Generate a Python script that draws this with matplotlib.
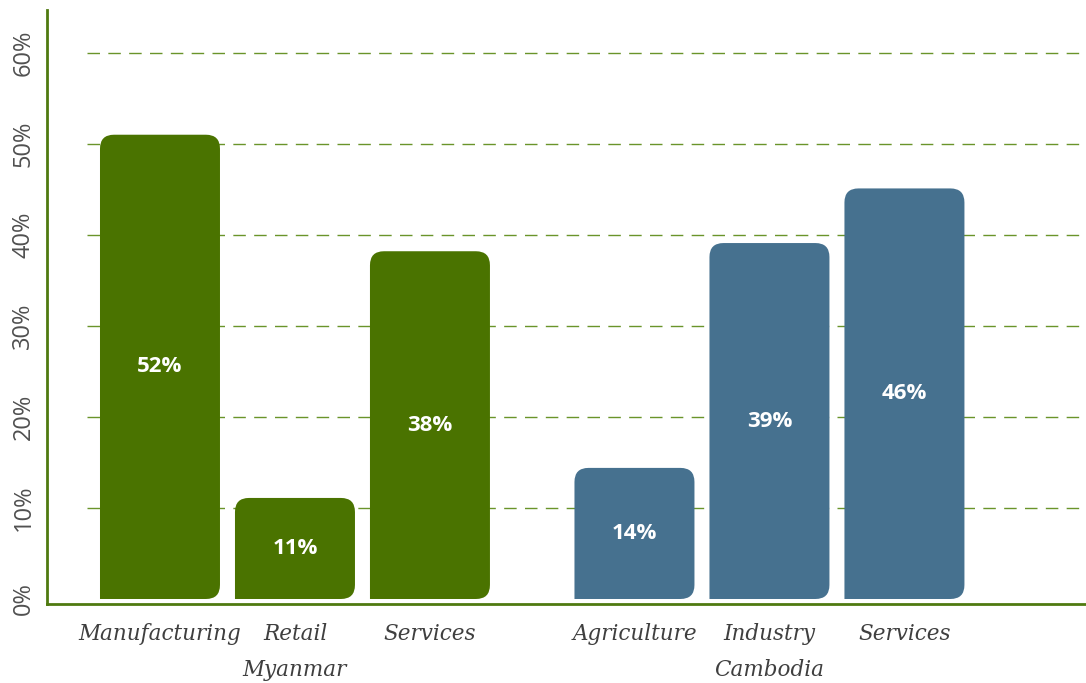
import matplotlib
matplotlib.use("Agg")
import matplotlib.pyplot as plt
from matplotlib.path import Path
from matplotlib.patches import PathPatch
from matplotlib.transforms import blended_transform_factory

# ---- data ----
categories = ["Manufacturing", "Retail", "Services", "Agriculture", "Industry", "Services"]
values = [51.0, 11.1, 38.2, 14.4, 39.1, 45.1]
value_labels = ["52%", "11%", "38%", "14%", "39%", "46%"]
groups = ["Myanmar", "Cambodia"]
group_of = [0, 0, 0, 1, 1, 1]
yticks = [0, 10, 20, 30, 40, 50, 60]
ytick_labels = ["0%", "10%", "20%", "30%", "40%", "50%", "60%"]

# ---- style ----
colors = ["#4a7300", "#46718f"]
grid_color = "#6a942a"
spine_color = "#4f7a10"
text_grey = "#3f3f3f"

W, H, DPI = 1086, 683, 100
fig = plt.figure(figsize=(W / DPI, H / DPI), dpi=DPI)
ax = fig.add_axes([47 / W, (H - 604) / H, 1 - 47 / W, (604 - 10) / H])

positions = [0, 1, 2, 3.515, 4.515, 5.515]
bar_w = 120 / 135
xlim = (-0.837, 6.86)
ylim = (-0.55, 64.7)
ax.set_xlim(*xlim)
ax.set_ylim(*ylim)

# pixel scales
px_per_x = (W - 47) / (xlim[1] - xlim[0])
px_per_y = (604 - 10) / (ylim[1] - ylim[0])
r_px = 14
rx = r_px / px_per_x
ry = r_px / px_per_y

# gridlines
gx0 = xlim[0] + (87 - 47) / px_per_x
for t in yticks[1:]:
    ax.plot([gx0, xlim[1]], [t, t], color=grid_color, lw=1.0,
            linestyle=(0, (9, 6)), zorder=1)

# bars (library bar for positions), then rounded path
bars = ax.bar(positions, values, width=bar_w, color="none", edgecolor="none")
for b, g, lab in zip(bars, group_of, value_labels):
    x0 = b.get_x(); x1 = x0 + b.get_width()
    y0 = 0.0; y1 = b.get_height()
    verts = [
        (x0, y0), (x1 - rx, y0), (x1, y0), (x1, y0 + ry),
        (x1, y1 - ry), (x1, y1), (x1 - rx, y1),
        (x0 + rx, y1), (x0, y1), (x0, y1 - ry),
        (x0, y0), (x0, y0),
    ]
    codes = [Path.MOVETO, Path.LINETO, Path.CURVE3, Path.CURVE3,
             Path.LINETO, Path.CURVE3, Path.CURVE3,
             Path.LINETO, Path.CURVE3, Path.CURVE3,
             Path.LINETO, Path.CLOSEPOLY]
    ax.add_patch(PathPatch(Path(verts, codes), facecolor=colors[g],
                           edgecolor="none", zorder=2))
    ax.text(x0 + b.get_width() / 2, y1 / 2, lab, ha="center", va="center",
            color="white", fontsize=16, fontweight="bold",
            family="Open Sans", zorder=3)

# spines
for s in ["top", "right"]:
    ax.spines[s].set_visible(False)
for s in ["left", "bottom"]:
    ax.spines[s].set_color(spine_color)
    ax.spines[s].set_linewidth(2.0)

# y ticks
ax.set_yticks(yticks)
ax.set_yticklabels(ytick_labels, rotation=90, va="center", ha="center",
                   fontsize=17, color="#505050", family="Open Sans")
ax.tick_params(axis="y", length=0, pad=17)

# x ticks
ax.set_xticks(positions)
ax.set_xticklabels(categories, fontsize=15.5, color=text_grey,
                   family="DejaVu Serif", style="italic")
ax.tick_params(axis="x", length=0, pad=14)

# group labels
trans = blended_transform_factory(ax.transData, fig.transFigure)
for gi, name in enumerate(groups):
    ps = [p for p, g in zip(positions, group_of) if g == gi]
    ax.text(sum(ps) / len(ps), (H - 670) / H, name, transform=trans,
            ha="center", va="center", fontsize=15.5, color=text_grey,
            family="DejaVu Serif", style="italic")

fig.savefig("out.png", dpi=DPI)
